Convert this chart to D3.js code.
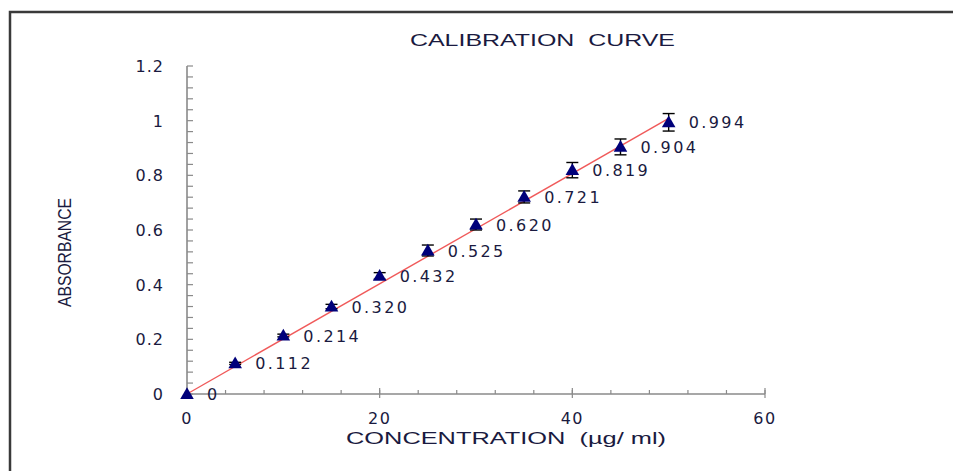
<!DOCTYPE html>
<html>
<head>
<meta charset="utf-8">
<script src="https://cdn.jsdelivr.net/npm/d3@7"></script>
<style>
  body { margin: 0; background: #fff; }
  svg { display: block; }
</style>
</head>
<body>
<svg id="chart" width="953" height="471"></svg>
<script>
var W = 953
var H = 471

// data
var concentration = [0, 5, 10, 15, 20, 25, 30, 35, 40, 45, 50]
var absorbance = [0, 0.112, 0.214, 0.320, 0.432, 0.525, 0.620, 0.721, 0.819, 0.904, 0.994]
var errorSD = [0, 0.004, 0.005, 0.008, 0.012, 0.02, 0.02, 0.022, 0.028, 0.029, 0.032]
var pointLabels = ["0", "0.112", "0.214", "0.320", "0.432", "0.525", "0.620", "0.721", "0.819", "0.904", "0.994"]
var trendX = [0, 50]
var trendY = [0, 1.008]
var xTicks = [0, 20, 40, 60]
var yTicks = [0, 0.2, 0.4, 0.6, 0.8, 1, 1.2]

var axisGrey = "#8a8a8a"
var navy = "#00007a"
var red = "#f05a5a"
var textCol = "#1a1a40"

var svg = d3.select("#chart")

// outer frame (open to the right and bottom)
svg.append("path")
	.attr("d", "M10,471 L10,12 L953,12")
	.attr("fill", "none")
	.attr("stroke", "#3a3a3a")
	.attr("stroke-width", 2.5)

var x = d3.scaleLinear().domain([0, 60]).range([187, 765])
var y = d3.scaleLinear().domain([0, 1.2]).range([394, 66])

// minor ticks drawn inside the plot
var xMinor = d3.range(0, 60.01, 4)
var yMinor = d3.range(0, 1.2001, 0.04)

svg.append("g")
	.selectAll("line")
	.data(xMinor)
	.enter()
	.append("line")
	.attr("x1", function(d) {return x(d);})
	.attr("x2", function(d) {return x(d);})
	.attr("y1", y(0))
	.attr("y2", y(0) - 4)
	.attr("stroke", axisGrey)
	.attr("stroke-width", 1.2)

svg.append("g")
	.selectAll("line")
	.data(xTicks)
	.enter()
	.append("line")
	.attr("x1", function(d) {return x(d);})
	.attr("x2", function(d) {return x(d);})
	.attr("y1", y(0) + 4)
	.attr("y2", y(0) - 6)
	.attr("stroke", axisGrey)
	.attr("stroke-width", 1.2)

svg.append("g")
	.selectAll("line")
	.data(yMinor)
	.enter()
	.append("line")
	.attr("x1", x(0))
	.attr("x2", x(0) + 6)
	.attr("y1", function(d) {return y(d);})
	.attr("y2", function(d) {return y(d);})
	.attr("stroke", axisGrey)
	.attr("stroke-width", 1.2)

// axis lines
svg.append("line")
	.attr("x1", x(0)).attr("x2", x(60))
	.attr("y1", y(0)).attr("y2", y(0))
	.attr("stroke", axisGrey)
	.attr("stroke-width", 1.6)

svg.append("line")
	.attr("x1", x(0)).attr("x2", x(0))
	.attr("y1", y(0)).attr("y2", y(1.2))
	.attr("stroke", axisGrey)
	.attr("stroke-width", 1.6)

// tick labels
svg.append("g")
	.selectAll("text")
	.data(xTicks)
	.enter()
	.append("text")
	.text(function(d) {return d;})
	.attr("x", function(d) {return x(d);})
	.attr("y", y(0) + 30)
	.attr("font-family", "DejaVu Sans")
	.attr("font-size", "16px")
	.attr("letter-spacing", "1.5px")
	.attr("fill", textCol)
	.attr("text-anchor", "middle")

svg.append("g")
	.selectAll("text")
	.data(yTicks)
	.enter()
	.append("text")
	.text(function(d) {return d;})
	.attr("x", 164)
	.attr("y", function(d) {return y(d) + 6;})
	.attr("font-family", "DejaVu Sans")
	.attr("font-size", "16px")
	.attr("letter-spacing", "1px")
	.attr("fill", textCol)
	.attr("text-anchor", "end")

// trend line
svg.append("line")
	.attr("x1", x(trendX[0])).attr("y1", y(trendY[0]))
	.attr("x2", x(trendX[1])).attr("y2", y(trendY[1]))
	.attr("stroke", red)
	.attr("stroke-width", 1.4)

var pts = concentration.map(function(c, i) {
	return {x: c, y: absorbance[i], sd: errorSD[i], label: pointLabels[i]}
})

// error bars
var eb = svg.append("g")
	.selectAll("g")
	.data(pts.filter(function(d) {return d.sd > 0;}))
	.enter()
	.append("g")
	.attr("stroke", "#000")
	.attr("stroke-width", 1.4)

eb.append("line")
	.attr("x1", function(d) {return x(d.x);})
	.attr("x2", function(d) {return x(d.x);})
	.attr("y1", function(d) {return y(d.y - d.sd);})
	.attr("y2", function(d) {return y(d.y + d.sd);})
eb.append("line")
	.attr("x1", function(d) {return x(d.x) - 6;})
	.attr("x2", function(d) {return x(d.x) + 6;})
	.attr("y1", function(d) {return y(d.y + d.sd);})
	.attr("y2", function(d) {return y(d.y + d.sd);})
eb.append("line")
	.attr("x1", function(d) {return x(d.x) - 6;})
	.attr("x2", function(d) {return x(d.x) + 6;})
	.attr("y1", function(d) {return y(d.y - d.sd);})
	.attr("y2", function(d) {return y(d.y - d.sd);})

// triangle markers
var tri = d3.symbol().type(d3.symbolTriangle).size(80)

svg.append("g")
	.selectAll("path")
	.data(pts)
	.enter()
	.append("path")
	.attr("d", tri)
	.attr("transform", function(d) {return "translate(" + x(d.x) + "," + (y(d.y) + 1) + ")";})
	.attr("fill", navy)

// value labels
svg.append("g")
	.selectAll("text")
	.data(pts)
	.enter()
	.append("text")
	.text(function(d) {return d.label;})
	.attr("x", function(d) {return x(d.x) + 20;})
	.attr("y", function(d) {return y(d.y) + 6;})
	.attr("font-family", "DejaVu Sans")
	.attr("font-size", "16px")
	.attr("letter-spacing", "2.4px")
	.attr("fill", textCol)

// titles
svg.append("text")
	.text("CALIBRATION  CURVE")
	.attr("x", 410)
	.attr("y", 46)
	.attr("xml:space", "preserve")
	.attr("textLength", 265)
	.attr("lengthAdjust", "spacingAndGlyphs")
	.attr("font-family", "Liberation Sans")
	.attr("font-size", "17px")
	.attr("fill", textCol)

svg.append("text")
	.text("CONCENTRATION  (µg/ ml)")
	.attr("x", 346)
	.attr("y", 444)
	.attr("xml:space", "preserve")
	.attr("textLength", 320)
	.attr("lengthAdjust", "spacingAndGlyphs")
	.attr("font-family", "Liberation Sans")
	.attr("font-size", "17px")
	.attr("fill", textCol)

svg.append("text")
	.text("ABSORBANCE")
	.attr("transform", "translate(71,307) rotate(-90)")
	.attr("textLength", 109)
	.attr("lengthAdjust", "spacingAndGlyphs")
	.attr("font-family", "Liberation Sans")
	.attr("font-size", "19px")
	.attr("fill", textCol)
</script>
</body>
</html>
